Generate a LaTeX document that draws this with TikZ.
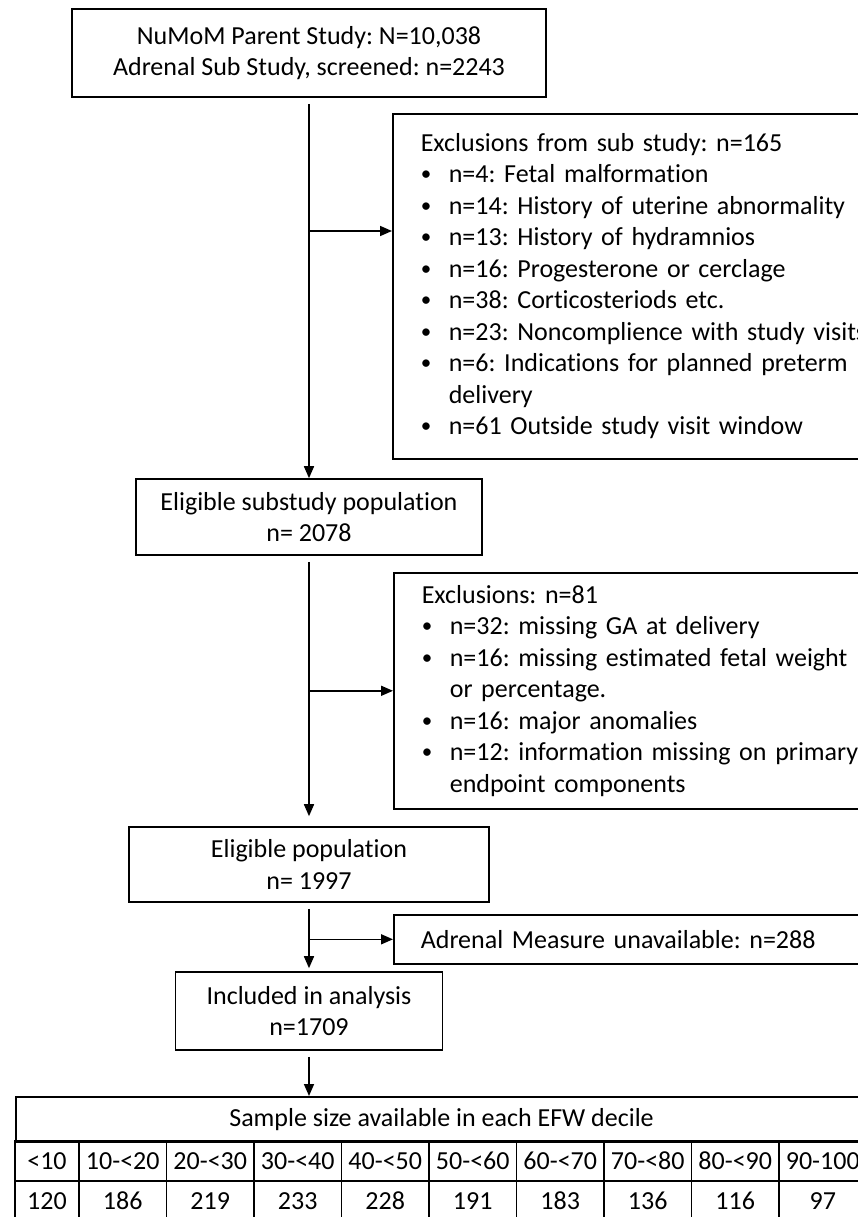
\documentclass[tikz,border=0pt]{standalone}
\usepackage{fontspec}
\setmainfont{Carlito}[Ligatures=NoCommon]
\usetikzlibrary{arrows.meta}
\frenchspacing
\newcommand{\bitem}{\makebox[28pt][l]{\raisebox{2pt}{\fontsize{21}{21}\selectfont\textbullet}}}
\newcommand{\hang}{\hspace*{28pt}}

\begin{document}
\begin{tikzpicture}[x=1pt,y=-1pt,
    font=\fontsize{26}{31.5}\selectfont,
    line width=1.6pt,
    box/.style={draw,inner sep=0pt,align=center},
    exbox/.style={draw,anchor=north west,inner xsep=28pt,inner ysep=0pt,
      text width=470pt,align=left},
    arr/.style={-{Triangle[length=12pt,width=10pt]}}]
  \useasboundingbox (0,0) rectangle (858,1217);
  \clip (0,0) rectangle (858,1217);
  \fill[white] (0,0) rectangle (858,1217);

  % boxes of the flow
  \node[box,minimum width=474pt,minimum height=88pt] (parent) at (309,53)
    {NuMoM Parent Study: N=10,038\\Adrenal Sub Study, screened: n=2243};
  \node[exbox,minimum height=345pt] (exclsub) at (392,113) {Exclusions from sub study: n=165\\
    \bitem n=4: Fetal malformation\\
    \bitem n=14: History of uterine abnormality\\
    \bitem n=13: History of hydramnios\\
    \bitem n=16: Progesterone or cerclage\\
    \bitem n=38: Corticosteriods etc.\\
    \bitem n=23: Noncomplience with study visits\\
    \bitem n=6: Indications for planned preterm\\
    \hang delivery\\
    \bitem n=61 Outside study visit window};
  \node[box,minimum width=346pt,minimum height=76pt] (substudy) at (309,517)
    {Eligible substudy population\\n= 2078};
  \node[exbox,minimum height=236pt] (exclelig) at (393,572) {Exclusions: n=81\\
    \bitem n=32: missing GA at delivery\\
    \bitem n=16: missing estimated fetal weight\\
    \hang or percentage.\\
    \bitem n=16: major anomalies\\
    \bitem n=12: information missing on primary\\
    \hang endpoint components};
  \node[box,minimum width=360pt,minimum height=75pt] (eligible) at (309,864.5)
    {Eligible population\\n= 1997};
  \node[exbox,minimum height=49pt,inner xsep=27pt] (adrenal) at (393,914)
    {Adrenal Measure unavailable: n=288};
  \node[box,minimum width=267pt,minimum height=78pt] (included) at (309,1011)
    {Included in analysis\\n=1709};

  % decile table
  \node[draw,anchor=north west,minimum width=851.5pt,minimum height=45pt,inner sep=0pt] (decile) at (15,1096)
    {Sample size available in each EFW decile};
  \draw (15,1141) rectangle (866.5,1221);
  \draw (15,1181) -- (866.5,1181);
  \foreach \k in {0,...,9}
    \draw (79+87.5*\k,1141) -- (79+87.5*\k,1221);
  \foreach \cx/\lab/\val [count=\k] in {47/{<10}/120, 122.75/{10-<20}/186,
      210.25/{20-<30}/219, 297.75/{30-<40}/233, 385.25/{40-<50}/228,
      472.75/{50-<60}/191, 560.25/{60-<70}/183, 647.75/{70-<80}/136,
      735.25/{80-<90}/116, 822.75/{90-100}/97}
  {
    \node (range\k) at (\cx,1161) {\lab};
    \node (count\k) at (\cx,1201) {\val};
  }

  % connectors
  \coordinate (forksub) at (309,231);
  \draw[arr,shorten <=6pt] (parent.south) -- (substudy.north);
  \draw[arr] (forksub) -- (forksub -| exclsub.west);
  \draw[arr,shorten <=6pt,shorten >=10pt] (substudy.south) -- (eligible.north);
  \draw[arr] (substudy.south |- exclelig.west) -- (exclelig.west);
  \draw[arr,shorten <=6pt,shorten >=3pt] (eligible.south) -- (included.north);
  \draw[arr] (eligible.south |- adrenal.west) -- (adrenal.west);
  \draw[arr,shorten <=6pt] (included.south) -- (included.south |- decile.north);
\end{tikzpicture}
\end{document}
